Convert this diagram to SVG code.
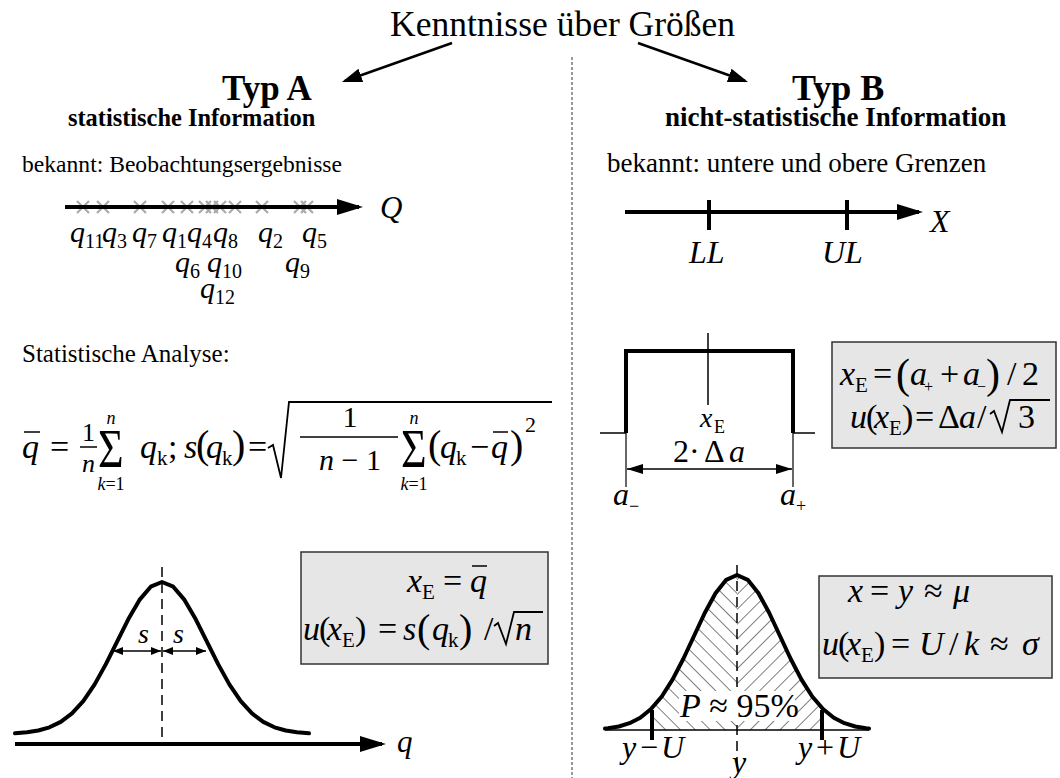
<svg xmlns="http://www.w3.org/2000/svg" width="1060" height="778" viewBox="0 0 1060 778">
<style>
text{font-family:"Liberation Serif","Times New Roman",serif;fill:#000}
.i{font-style:italic}
.b{font-weight:bold}
.f{font-size:34px}
.sub{font-size:21px}
.thick{stroke:#000;stroke-width:4;fill:none;stroke-linejoin:round;stroke-linecap:round}
.thin{stroke:#000;stroke-width:1.5;fill:none}
.box{fill:#e6e6e6;stroke:#333;stroke-width:1.5}
.cross{stroke:#aaa;stroke-width:2.2;fill:none}
</style>
<defs>
<marker id="mBig" viewBox="0 0 26 16" refX="22" refY="8" markerWidth="26" markerHeight="16" markerUnits="userSpaceOnUse" orient="auto"><path d="M0,0 L26,8 L0,16 Z" fill="#000"/></marker>
<marker id="mTitle" viewBox="0 0 20 14" refX="17" refY="7" markerWidth="20" markerHeight="14" markerUnits="userSpaceOnUse" orient="auto"><path d="M0,0 L20,7 L0,14 Z" fill="#000"/></marker>
<marker id="mDim" viewBox="0 0 16 10" refX="16" refY="5" markerWidth="16" markerHeight="10" markerUnits="userSpaceOnUse" orient="auto-start-reverse"><path d="M0,0 L16,5 L0,10 Z" fill="#000"/></marker>
<marker id="mS" viewBox="0 0 10 8" refX="10" refY="4" markerWidth="10" markerHeight="8" markerUnits="userSpaceOnUse" orient="auto-start-reverse"><path d="M0,0 L10,4 L0,8 Z" fill="#000"/></marker>
<path id="x" d="M-6,-6 L6,6 M-6,6 L6,-6" class="cross"/>
<pattern id="hL" patternUnits="userSpaceOnUse" width="10.5" height="10" patternTransform="translate(737 0) rotate(-45)"><line x1="0" y1="0" x2="0" y2="10" stroke="#000" stroke-width="1"/></pattern>
<pattern id="hR" patternUnits="userSpaceOnUse" width="10.5" height="10" patternTransform="translate(737 0) rotate(45)"><line x1="0" y1="0" x2="0" y2="10" stroke="#000" stroke-width="1"/></pattern>
<clipPath id="gclip"><path d="M652,730 L652,708 L661.75,696.5 L672.5,679.7 L683.25,659 L694,636 L704.75,613 L715.5,593.2 L726.25,579.8 L737,575 L747.75,579.8 L758.5,593.2 L769.25,613 L780,636 L790.75,659 L801.5,679.7 L812.25,696.5 L822,708 L822,730 Z"/></clipPath>
</defs>

<g id="title">
<text x="390" y="36" font-size="35.5">Kenntnisse über Größen</text>
</g>

<g id="connectors">
<line x1="452" y1="43" x2="344.8" y2="81" stroke="#000" stroke-width="2.5" marker-end="url(#mTitle)"/>
<line x1="638" y1="43" x2="745.2" y2="81" stroke="#000" stroke-width="2.5" marker-end="url(#mTitle)"/>
<line x1="572" y1="57" x2="572" y2="778" stroke="#999" stroke-width="2" stroke-dasharray="3 2"/>
</g>

<g id="typA">
<text x="222" y="100" font-size="35" class="b">Typ A</text>
<text x="68" y="126" font-size="24.4" class="b">statistische Information</text>
<text x="22" y="172" font-size="23.6">bekannt: Beobachtungsergebnisse</text>
</g>

<g id="typB">
<text x="792" y="100" font-size="36" class="b">Typ B</text>
<text x="665" y="126" font-size="27" class="b">nicht-statistische Information</text>
<text x="607" y="172" font-size="27">bekannt: untere und obere Grenzen</text>
</g>

<g id="axisQ">
<use href="#x" x="83" y="207"/><use href="#x" x="103" y="207"/><use href="#x" x="140" y="207"/><use href="#x" x="168" y="207"/>
<use href="#x" x="187" y="207"/><use href="#x" x="205" y="207"/><use href="#x" x="212" y="207"/><use href="#x" x="220" y="207"/>
<use href="#x" x="235" y="207"/><use href="#x" x="262" y="207"/><use href="#x" x="300" y="207"/><use href="#x" x="307" y="207"/>
<line x1="65" y1="207" x2="359" y2="207" stroke="#000" stroke-width="4" marker-end="url(#mBig)"/>
<text x="380" y="218" font-size="31" class="i">Q</text>
<g font-size="30">
<text x="70" y="242"><tspan class="i">q</tspan><tspan font-size="20" dy="6">11</tspan></text>
<text x="102" y="242"><tspan class="i">q</tspan><tspan font-size="20" dy="6">3</tspan></text>
<text x="132" y="242"><tspan class="i">q</tspan><tspan font-size="20" dy="6">7</tspan></text>
<text x="162" y="242"><tspan class="i">q</tspan><tspan font-size="20" dy="6">1</tspan></text>
<text x="187" y="242"><tspan class="i">q</tspan><tspan font-size="20" dy="6">4</tspan></text>
<text x="213" y="242"><tspan class="i">q</tspan><tspan font-size="20" dy="6">8</tspan></text>
<text x="258" y="242"><tspan class="i">q</tspan><tspan font-size="20" dy="6">2</tspan></text>
<text x="302" y="242"><tspan class="i">q</tspan><tspan font-size="20" dy="6">5</tspan></text>
<text x="175" y="272"><tspan class="i">q</tspan><tspan font-size="20" dy="6">6</tspan></text>
<text x="207" y="272"><tspan class="i">q</tspan><tspan font-size="20" dy="6">10</tspan></text>
<text x="285" y="272"><tspan class="i">q</tspan><tspan font-size="20" dy="6">9</tspan></text>
<text x="200" y="298"><tspan class="i">q</tspan><tspan font-size="20" dy="6">12</tspan></text>
</g>
</g>

<g id="axisX">
<line x1="625" y1="212" x2="919" y2="212" stroke="#000" stroke-width="4" marker-end="url(#mBig)"/>
<line x1="709" y1="200" x2="709" y2="230" stroke="#000" stroke-width="4"/>
<line x1="847" y1="200" x2="847" y2="230" stroke="#000" stroke-width="4"/>
<text x="930" y="232" font-size="32" class="i">X</text>
<text x="689" y="263" font-size="32" class="i">LL</text>
<text x="822" y="263" font-size="32" class="i">UL</text>
</g>

<g id="analysis">
<text x="22" y="362" font-size="25">Statistische Analyse:</text>
<g class="f">
<text x="22" y="458" class="i">q</text>
<line x1="24" y1="432" x2="40" y2="432" stroke="#000" stroke-width="1.5"/>
<text x="50" y="458">=</text>
<text x="82" y="441" font-size="26">1</text>
<line x1="80" y1="447" x2="97" y2="447" stroke="#000" stroke-width="1.5"/>
<text x="82" y="472" font-size="26" class="i">n</text>
<text transform="translate(98 467) scale(1 1.25)" font-size="44">Σ</text>
<text x="111" y="424" font-size="18" class="i" text-anchor="middle">n</text>
<text x="111" y="490" font-size="18" text-anchor="middle"><tspan class="i">k</tspan>=1</text>
<text x="140" y="458" class="i">q</text>
<text x="157" y="465" class="sub">k</text>
<text x="168" y="458">;</text>
<text x="184" y="458" class="i">s</text>
<text x="196" y="458" font-size="40">(</text>
<text x="206" y="458" class="i">q</text>
<text x="222" y="465" class="sub">k</text>
<text x="232" y="458" font-size="40">)</text>
<text x="248" y="458">=</text>
<path d="M268,448 L273,445 L281,478 L289,402 L552,402" stroke="#000" stroke-width="1.8" fill="none"/>
<text x="350" y="427" font-size="30" text-anchor="middle">1</text>
<line x1="300" y1="437" x2="398" y2="437" stroke="#000" stroke-width="1.5"/>
<text x="350" y="470" font-size="30" text-anchor="middle"><tspan class="i">n</tspan> − 1</text>
<text transform="translate(401 467) scale(1 1.25)" font-size="44">Σ</text>
<text x="414" y="424" font-size="18" class="i" text-anchor="middle">n</text>
<text x="414" y="490" font-size="18" text-anchor="middle"><tspan class="i">k</tspan>=1</text>
<text x="428" y="458" font-size="40">(</text>
<text x="440" y="458" class="i">q</text>
<text x="456" y="465" class="sub">k</text>
<text x="470" y="458">−</text>
<text x="491" y="458" class="i">q</text>
<line x1="493" y1="432" x2="508" y2="432" stroke="#000" stroke-width="1.5"/>
<text x="510" y="458" font-size="40">)</text>
<text x="525" y="432" font-size="22">2</text>
</g>
</g>

<g id="rectDist">
<line x1="600" y1="433" x2="626" y2="433" class="thin"/>
<line x1="793" y1="433" x2="815" y2="433" class="thin"/>
<path d="M626,433 L626,351 L793,351 L793,433" stroke="#000" stroke-width="4" fill="none"/>
<line x1="708" y1="333" x2="708" y2="405" stroke="#000" stroke-width="1.5"/>
<line x1="626" y1="433" x2="626" y2="487" stroke="#000" stroke-width="1.2"/>
<line x1="793" y1="433" x2="793" y2="487" stroke="#000" stroke-width="1.2"/>
<line x1="627" y1="469" x2="792" y2="469" stroke="#000" stroke-width="1.5" marker-start="url(#mDim)" marker-end="url(#mDim)"/>
<text x="700" y="427" font-size="28" class="i">x</text>
<text x="714" y="433" font-size="18">E</text>
<text x="673" y="462" font-size="32">2</text>
<text x="689" y="462" font-size="32">·</text>
<text x="704" y="462" font-size="32">Δ</text>
<text x="729" y="462" font-size="32" class="i">a</text>
<text x="613" y="505" font-size="32" class="i">a</text>
<text x="629" y="512" font-size="18">−</text>
<text x="780" y="505" font-size="32" class="i">a</text>
<text x="796" y="512" font-size="18">+</text>
</g>

<g id="boxRect">
<rect x="832" y="342" width="224" height="106" class="box"/>
<g class="f">
<text x="840" y="385" class="i">x</text>
<text x="855" y="392" class="sub">E</text>
<text x="873" y="385">=</text>
<text x="896" y="388" font-size="42">(</text>
<text x="910" y="385" class="i">a</text>
<text x="924" y="392" font-size="16">+</text>
<text x="940" y="385">+</text>
<text x="963" y="385" class="i">a</text>
<text x="977" y="392" font-size="16">−</text>
<text x="986" y="388" font-size="42">)</text>
<text x="1007" y="385">/</text>
<text x="1022" y="385">2</text>
<text x="850" y="428" class="i">u</text>
<text x="866" y="428">(</text>
<text x="874" y="428" class="i">x</text>
<text x="889" y="435" class="sub">E</text>
<text x="902" y="428">)</text>
<text x="915" y="428">=</text>
<text x="938" y="428">Δ</text>
<text x="959" y="428" class="i">a</text>
<text x="977" y="428">/</text>
<path d="M990,414 L994,411 L1002,432 L1010,400 L1050,400" stroke="#000" stroke-width="1.8" fill="none"/>
<text x="1018" y="428">3</text>
</g>
</g>

<g id="gaussA">
<path d="M15,733.3 L27,732.3 L38.25,730.5 L49.5,727.3 L60.75,721.9 L72,713.4 L83.25,701.1 L94.5,684.6 L105.75,664.4 L117,641.8 L128.25,619.3 L139.5,599.9 L150.75,586.7 L162,582 L173.25,586.7 L184.5,599.9 L195.75,619.3 L207,641.8 L218.25,664.4 L229.5,684.6 L240.75,701.1 L252,713.4 L263.25,721.9 L274.5,727.3 L285.75,730.5 L297,732.3 L309,733.3" class="thick"/>
<line x1="15" y1="744" x2="382" y2="744" stroke="#000" stroke-width="4" marker-end="url(#mBig)"/>
<line x1="162" y1="567" x2="162" y2="744" stroke="#000" stroke-width="1.5" stroke-dasharray="10 6"/>
<line x1="113" y1="651" x2="161" y2="651" stroke="#000" stroke-width="1.5" marker-start="url(#mS)" marker-end="url(#mS)"/>
<line x1="163" y1="651" x2="206" y2="651" stroke="#000" stroke-width="1.5" marker-start="url(#mS)" marker-end="url(#mS)"/>
<text x="138" y="643" font-size="28" class="i">s</text>
<text x="173" y="643" font-size="28" class="i">s</text>
<text x="397" y="752" font-size="31" class="i">q</text>
</g>

<g id="boxA">
<rect x="301" y="552" width="247" height="112" class="box"/>
<g class="f">
<text x="407" y="592" class="i">x</text>
<text x="422" y="599" class="sub">E</text>
<text x="443" y="592">=</text>
<text x="470" y="592" class="i">q</text>
<line x1="472" y1="566" x2="487" y2="566" stroke="#000" stroke-width="1.5"/>
<text x="303" y="640" class="i">u</text>
<text x="319" y="640">(</text>
<text x="327" y="640" class="i">x</text>
<text x="342" y="647" class="sub">E</text>
<text x="355" y="640">)</text>
<text x="378" y="640">=</text>
<text x="403" y="640" class="i">s</text>
<text x="417" y="642" font-size="40">(</text>
<text x="432" y="640" class="i">q</text>
<text x="448" y="647" class="sub">k</text>
<text x="459" y="642" font-size="40">)</text>
<text x="484" y="640">/</text>
<path d="M494,626 L498,623 L506,644 L514,612 L543,612" stroke="#000" stroke-width="1.8" fill="none"/>
<text x="515" y="640" class="i">n</text>
</g>
</g>

<g id="gaussB">
<rect x="652" y="560" width="85" height="175" fill="url(#hL)" clip-path="url(#gclip)"/>
<rect x="737" y="560" width="85" height="175" fill="url(#hR)" clip-path="url(#gclip)"/>
<line x1="605" y1="730" x2="869" y2="730" stroke="#000" stroke-width="1.5"/>
<path d="M605,728.5 L608,728.3 L618.75,726.5 L629.5,723.2 L640.25,717.7 L651,709 L661.75,696.5 L672.5,679.7 L683.25,659 L694,636 L704.75,613 L715.5,593.2 L726.25,579.8 L737,575 L747.75,579.8 L758.5,593.2 L769.25,613 L780,636 L790.75,659 L801.5,679.7 L812.25,696.5 L823,709 L833.75,717.7 L844.5,723.2 L855.25,726.5 L866,728.3 L869,728.5" class="thick"/>
<line x1="652" y1="710" x2="652" y2="740" stroke="#000" stroke-width="4"/>
<line x1="822" y1="710" x2="822" y2="740" stroke="#000" stroke-width="4"/>
<line x1="737" y1="565" x2="737" y2="767" stroke="#000" stroke-width="1.5" stroke-dasharray="10 6"/>
<rect x="679" y="691" width="116" height="30" fill="#fff"/>
<text x="680" y="717" font-size="34"><tspan class="i">P</tspan> ≈ 95%</text>
<g font-size="32">
<text x="622" y="758" class="i">y</text>
<text x="640" y="758">−</text>
<text x="661" y="758" class="i">U</text>
<text x="798" y="758" class="i">y</text>
<text x="816" y="758">+</text>
<text x="837" y="758" class="i">U</text>
<text x="732" y="773" class="i">y</text>
</g>
</g>

<g id="boxB">
<rect x="819" y="576" width="233" height="102" class="box"/>
<g class="f">
<text x="848" y="602" class="i">x</text>
<text x="870" y="602">=</text>
<text x="898" y="602" class="i">y</text>
<text x="924" y="602">≈</text>
<text x="953" y="602" class="i">μ</text>
<text x="822" y="655" class="i">u</text>
<text x="838" y="655">(</text>
<text x="846" y="655" class="i">x</text>
<text x="861" y="662" class="sub">E</text>
<text x="874" y="655">)</text>
<text x="891" y="655">=</text>
<text x="919" y="655" class="i">U</text>
<text x="949" y="655">/</text>
<text x="964" y="655" class="i">k</text>
<text x="990" y="655">≈</text>
<text x="1022" y="655" class="i">σ</text>
</g>
</g>
</svg>
